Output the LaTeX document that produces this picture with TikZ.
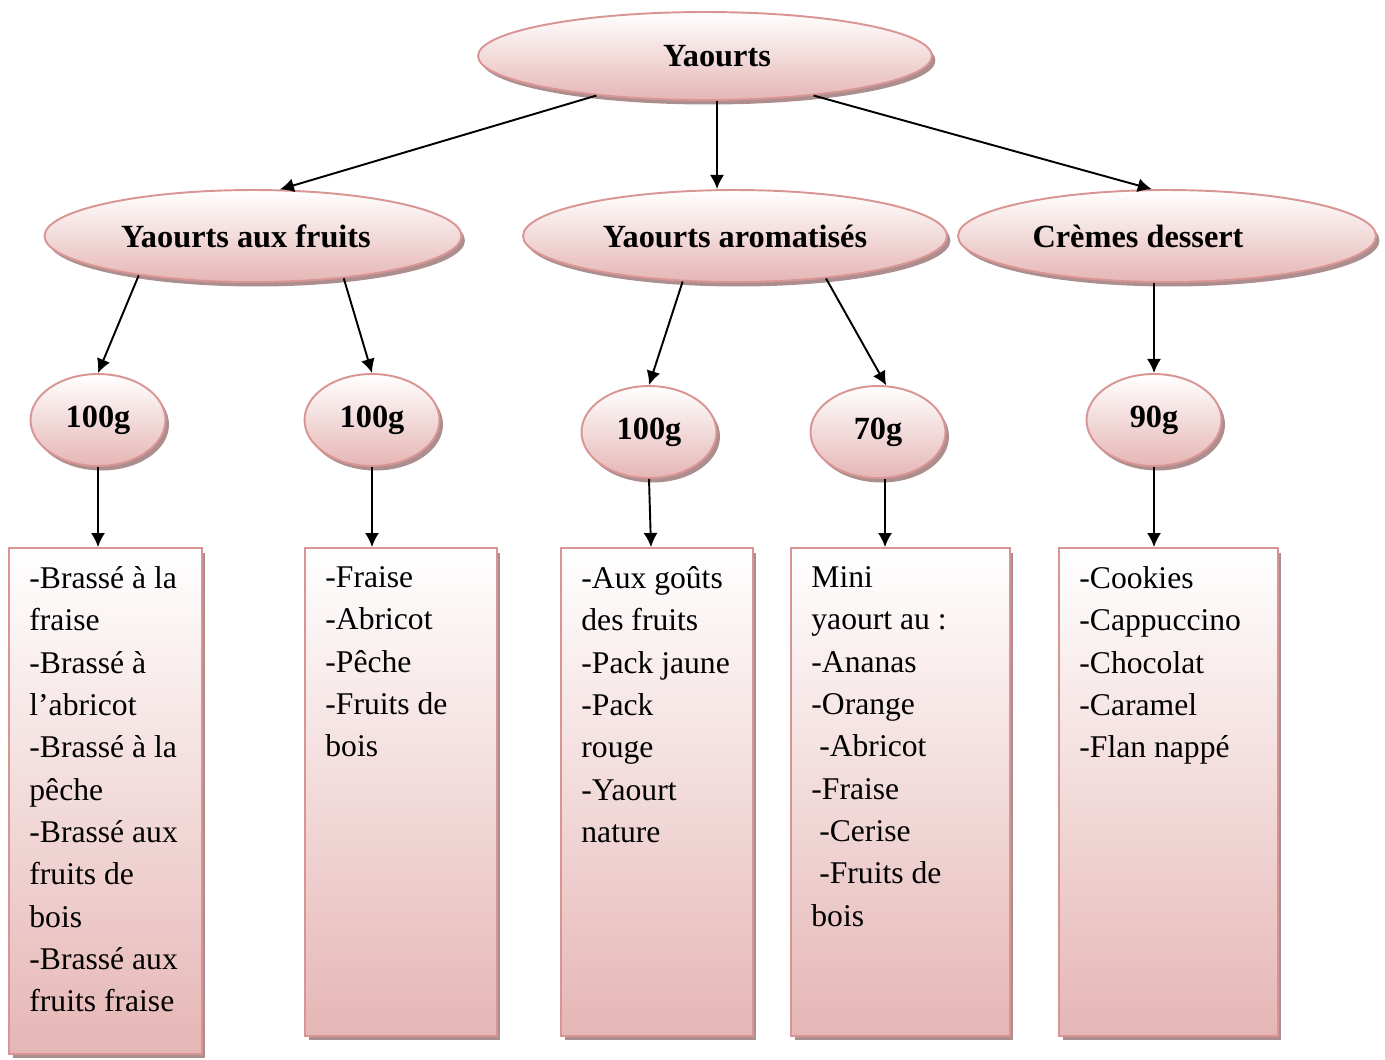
\documentclass[tikz,border=0pt]{standalone}
\usepackage{fontspec}
\setmainfont{Liberation Serif}
\usetikzlibrary{positioning,arrows.meta,calc,shapes.geometric,shadows}

\definecolor{rosebord}{RGB}{217,149,148}
\definecolor{rosefond}{RGB}{229,182,181}
\definecolor{roseombre}{RGB}{172,142,142}

\begin{document}
\begin{tikzpicture}[x=0.02cm,y=-0.02cm,>={Latex[length=8pt,width=8pt]},
	ombre/.style={drop shadow={shadow xshift=0.07cm,shadow yshift=-0.09cm,
		fill=roseombre,opacity=1}},
	bulle/.style={ellipse,draw=rosebord,line width=1.1pt,top color=white,
		bottom color=rosefond,inner sep=0pt,ombre,
		font=\fontsize{18.4}{22}\selectfont\bfseries},
	kasten/.style={rectangle,draw=rosebord,line width=1.1pt,top color=white,
		bottom color=rosefond,inner sep=0pt,ombre},
	liste/.style={anchor=north west,align=left,inner sep=0pt,
		font=\fontsize{18}{24.1}\selectfont},
	fleche/.style={->,line width=1.1pt}]
	\useasboundingbox (0,0) rectangle (1385,1059);

	% niveau 1
	\node[bulle,minimum width=9.08cm,minimum height=1.76cm]
		  (yaourts) at (705,56) {\hspace*{0.48cm}Yaourts};

	% niveau 2
	\node[bulle,minimum width=8.34cm,minimum height=1.84cm]
		  (fruits) at (253,236) {Yaourts aux fruits\hspace*{0.28cm}};
	\node[bulle,minimum width=8.48cm,minimum height=1.84cm]
		  (arom) at (735,236) {Yaourts aromatisés};
	\node[bulle,minimum width=8.36cm,minimum height=1.84cm]
		  (cremes) at (1167,236) {Crèmes dessert\hspace*{1.16cm}};

	% poids
	\node[bulle,minimum width=2.7cm,minimum height=1.84cm] (g1) at (98,420) {100g};
	\node[bulle,minimum width=2.7cm,minimum height=1.84cm] (g2) at (372,420) {100g};
	\node[bulle,minimum width=2.7cm,minimum height=1.84cm] (g3) at (649,432) {100g};
	\node[bulle,minimum width=2.7cm,minimum height=1.84cm] (g4) at (878,432) {70g};
	\node[bulle,minimum width=2.7cm,minimum height=1.84cm] (g5) at (1154,420) {90g};

	% listes
	\node[kasten,minimum width=3.86cm,minimum height=10.12cm] (b1) at (105.5,801) {};
	\node[kasten,minimum width=3.84cm,minimum height=9.76cm] (b2) at (401,792) {};
	\node[kasten,minimum width=3.84cm,minimum height=9.76cm] (b3) at (657,792) {};
	\node[kasten,minimum width=4.38cm,minimum height=9.76cm] (b4) at (900.5,792) {};
	\node[kasten,minimum width=4.38cm,minimum height=9.76cm] (b5) at (1168.5,792) {};

	\node[liste] (l1) at ([xshift=0.42cm,yshift=-0.38cm]b1.north west)
		{-Brassé à la\\fraise\\-Brassé à\\l’abricot\\-Brassé à la\\pêche\\%
		 -Brassé aux\\fruits de\\bois\\-Brassé aux\\fruits fraise};
	\node[liste] (l2) at ([xshift=0.42cm,yshift=-0.38cm]b2.north west)
		{-Fraise\\-Abricot\\-Pêche\\-Fruits de\\bois};
	\node[liste] (l3) at ([xshift=0.42cm,yshift=-0.38cm]b3.north west)
		{-Aux goûts\\des fruits\\-Pack jaune\\-Pack\\rouge\\-Yaourt\\nature};
	\node[liste] (l4) at ([xshift=0.42cm,yshift=-0.38cm]b4.north west)
		{Mini\\yaourt au :\\-Ananas\\-Orange\\\hspace*{4.5pt}-Abricot\\-Fraise\\%
		 \hspace*{4.5pt}-Cerise\\\hspace*{4.5pt}-Fruits de\\bois};
	\node[liste] (l5) at ([xshift=0.42cm,yshift=-0.38cm]b5.north west)
		{-Cookies\\-Cappuccino\\-Chocolat\\-Caramel\\-Flan nappé};

	% fleches
	\draw[fleche] (yaourts.200) -- (fruits.60);
	\draw[fleche] ([xshift=0.24cm]yaourts.south) -- ([xshift=0.24cm]yaourts.south |- arom.north);
	\draw[fleche] (yaourts.-20) -- (cremes.108);
	\draw[fleche] (fruits.199) -- (g1.north);
	\draw[fleche] (fruits.-25) -- (g2.north);
	\draw[fleche] (arom.221) -- (g3.north);
	\draw[fleche] (arom.-25) -- (g4.80);
	\draw[fleche] (g5.north |- cremes.south) -- (g5.north);
	\draw[fleche] (g1.south) -- (g1.south |- b1.north);
	\draw[fleche] (g2.south) -- (g2.south |- b2.north);
	\draw[fleche] (g3.south) -- ([xshift=0.04cm]g3.south |- b3.north);
	\draw[fleche] ([xshift=0.14cm]g4.south) -- ([xshift=0.14cm]g4.south |- b4.north);
	\draw[fleche] (g5.south) -- (g5.south |- b5.north);
\end{tikzpicture}
\end{document}
